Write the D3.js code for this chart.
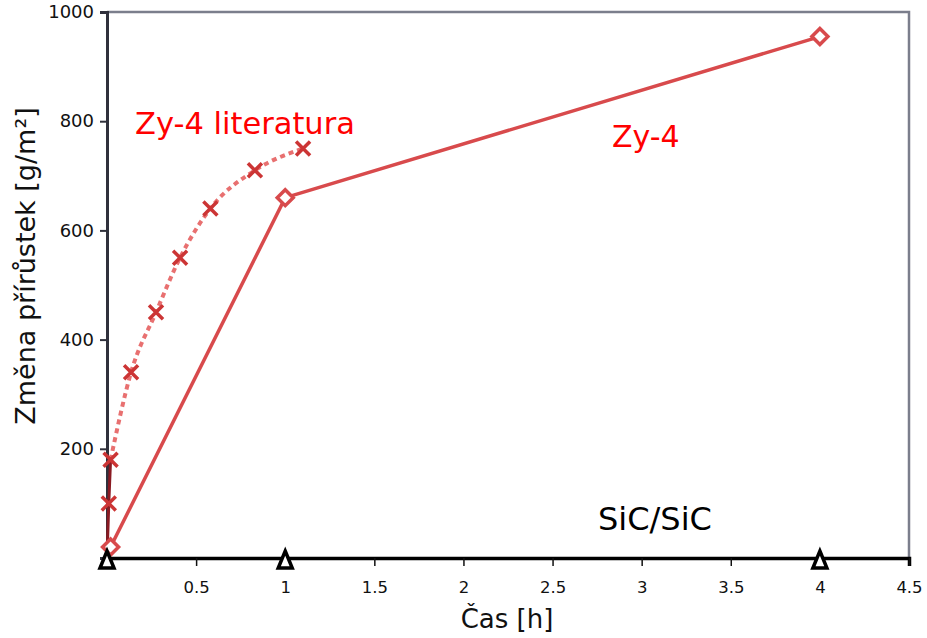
<!DOCTYPE html>
<html><head><meta charset="utf-8">
<script src="https://cdn.jsdelivr.net/npm/d3@7"></script>
<style>body{margin:0;background:#fff}svg{display:block}text{font-family:"DejaVu Sans",sans-serif}</style>
</head><body><div id="chart"></div>
<script>
const zyX = [0.02, 1, 4];
const zyY = [20, 660, 955];
const litX = [0, 0.01, 0.02, 0.135, 0.275, 0.41, 0.58, 0.83, 1.1];
const litY = [0, 100, 180, 340, 450, 550, 640, 710, 750];
const sicX = [0, 1, 4];
const sicY = [0, 0, 0];
const xTicks = [0.5, 1, 1.5, 2, 2.5, 3, 3.5, 4, 4.5];
const yTicks = [200, 400, 600, 800, 1000];

const W = 927, H = 638;
const m = {l: 107, r: 18, t: 12, b: 80};
const svg = d3.select("#chart").append("svg").attr("width", W).attr("height", H);
const x = d3.scaleLinear().domain([0, 4.5]).range([m.l, W - m.r]);
const y = d3.scaleLinear().domain([0, 1000]).range([H - m.b, m.t]);

// frame top/right
svg.append("path").attr("d", `M${x(0)},${y(1000)}H${x(4.5)}V${y(0)}`)
  .attr("fill", "none").attr("stroke", "#7b7e8c").attr("stroke-width", 2.5);

// axes
const yAxis = svg.append("g").attr("transform", `translate(${x(0)},0)`)
  .call(d3.axisLeft(y).tickValues(yTicks).tickFormat(d3.format("d")).tickSize(7).tickPadding(6));
yAxis.attr("font-size", 18).attr("font-family", "DejaVu Sans");
yAxis.select(".domain").attr("stroke", "#30313c").attr("stroke-width", 3);
yAxis.selectAll(".tick line").attr("stroke", "#30313c").attr("stroke-width", 2);
yAxis.selectAll("text").attr("fill", "#111");

const xAxis = svg.append("g").attr("transform", `translate(0,${y(0)})`)
  .call(d3.axisBottom(x).tickValues(xTicks).tickFormat(d => String(d)).tickSize(8).tickPadding(15));
xAxis.attr("font-size", 16.5).attr("font-family", "DejaVu Sans");
xAxis.select(".domain").attr("stroke", "#000").attr("stroke-width", 3.5);
xAxis.selectAll(".tick line").attr("stroke", "#111").attr("stroke-width", 1.5);
xAxis.selectAll("text").attr("fill", "#111");

// literature line
const litPts = litX.map((d, i) => [d, litY[i]]);
const line = d3.line().x(d => x(d[0])).y(d => y(d[1]));
svg.append("path").attr("d", line(litPts.slice(0, 3)))
  .attr("fill", "none").attr("stroke", "#8a1a22").attr("stroke-width", 3);
svg.append("path").attr("d", d3.line().curve(d3.curveMonotoneX).x(d => x(d[0])).y(d => y(d[1]))(litPts.slice(2)))
  .attr("fill", "none").attr("stroke", "#e87070").attr("stroke-width", 4).attr("stroke-dasharray", "5,4");
svg.selectAll(".xm").data(litPts.slice(1)).join("path")
  .attr("d", d => { const cx = x(d[0]), cy = y(d[1]), s = 7;
    return `M${cx-s},${cy-s}L${cx+s},${cy+s}M${cx-s},${cy+s}L${cx+s},${cy-s}`; })
  .attr("stroke", "#cc3535").attr("stroke-width", 3.5).attr("fill", "none");

// Zy-4 line
const zyPts = zyX.map((d, i) => [d, zyY[i]]);
svg.append("path").attr("d", line(zyPts))
  .attr("fill", "none").attr("stroke", "#d84a4c").attr("stroke-width", 3.5);
svg.selectAll(".dm").data(zyPts).join("path")
  .attr("d", d => { const cx = x(d[0]), cy = y(d[1]), s = 8;
    return `M${cx},${cy-s}L${cx+s},${cy}L${cx},${cy+s}L${cx-s},${cy}Z`; })
  .attr("fill", "#fff").attr("stroke", "#d84a4c").attr("stroke-width", 3.5);

// SiC/SiC triangles
svg.selectAll(".tr").data(sicX.map((d, i) => [d, sicY[i]])).join("path")
  .attr("d", d => { const cx = x(d[0]), cy = y(d[1]) + 2;
    return `M${cx},${cy-9}L${cx+7},${cy+8}L${cx-7},${cy+8}Z`; })
  .attr("fill", "#fff").attr("stroke", "#000").attr("stroke-width", 3.5);

// labels
svg.append("text").attr("x", 135).attr("y", 134).attr("font-size", 30.5).attr("fill", "#ff0000").text("Zy-4 literatura");
svg.append("text").attr("x", 612).attr("y", 147).attr("font-size", 30).attr("fill", "#ff0000").text("Zy-4");
svg.append("text").attr("x", 598).attr("y", 530).attr("font-size", 32).attr("fill", "#000").text("SiC/SiC");

svg.append("text").attr("x", 507).attr("y", 628).attr("text-anchor", "middle").attr("font-size", 26).attr("fill", "#111").text("Čas [h]");
svg.append("text").attr("transform", "translate(35,266) rotate(-90)").attr("text-anchor", "middle")
  .attr("font-size", 27).attr("fill", "#111").text("Změna přírůstek [g/m²]");
</script></body></html>
